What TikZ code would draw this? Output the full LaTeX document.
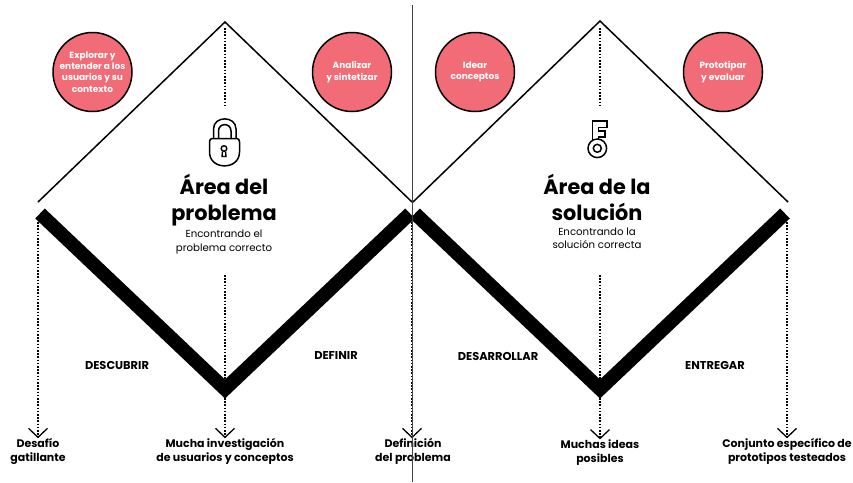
\documentclass[tikz,border=0pt]{standalone}
\usepackage{fontspec}
\usepackage{xcolor}
\usetikzlibrary{arrows.meta}
\setmainfont{Poppins}
\definecolor{circle-pink}{HTML}{F26C77}
\tikzset{
    x=1pt, y=-1pt,
    edge-line/.style = {draw=black, line width=1.5pt},
    thick-v/.style = {draw=black, line width=13.8pt, miter limit=10},
    dot-line/.style = {draw=black, line width=1.1pt, dash pattern=on 1.6pt off 1.6pt},
    dot-arrow/.style = {dot-line, -{Straight Barb[length=9pt,width=19pt,line width=1.3pt]}},
    step-circle/.style = {circle, draw=black, line width=1.5pt, fill=circle-pink, text=white, minimum size=79pt, inner sep=0pt, align=center, font=\fontsize{9}{11.2}\selectfont\bfseries},
    area-title/.style = {align=center, inner sep=0pt, font=\fontsize{20.8}{26.5}\selectfont\bfseries},
    area-sub/.style = {align=center, inner sep=0pt, font=\fontsize{10.2}{13.5}\selectfont},
    phase-label/.style = {inner sep=0pt, font=\fontsize{11.4}{12}\selectfont\bfseries},
    result-label/.style = {align=center, inner sep=0pt, font=\fontsize{11}{14}\selectfont\bfseries},
    icon-line/.style = {draw=black, line width=1.5pt, fill=white},
}

\begin{document}
\begin{tikzpicture}
\useasboundingbox (0,0) rectangle (853,482);

% diamonds
\coordinate (problem-left) at (38,202);
\coordinate (problem-top) at (225,22);
\coordinate (problem-right) at (412,202);
\coordinate (solution-left) at (413,202);
\coordinate (solution-top) at (600,21);
\coordinate (solution-right) at (788,202);
\draw[edge-line] (problem-left) -- (problem-top) -- (problem-right);
\draw[edge-line] (solution-left) -- (solution-top) -- (solution-right);

% thick bands
\coordinate (problem-low) at (225,389);
\coordinate (solution-low) at (600,389);
\draw[thick-v] (40,213.5) -- (problem-low) -- (410,213.5);
\draw[thick-v] (415,213.5) -- (solution-low) -- (785,213.5);

% circles
\node[step-circle] (explorar) at (92.5,72) {Explorar y\\entender a los\\usuarios y su\\contexto};
\node[step-circle] (analizar) at (352,72) {Analizar\\y sintetizar};
\node[step-circle] (idear) at (475,72) {Idear\\conceptos};
\node[step-circle] (prototipar) at (723,72) {Prototipar\\y evaluar};

% lock
\draw[icon-line] (213.5,140) -- (213.5,129) .. controls (213.5,115.5) and (236,115.5) .. (236,129) -- (236,140);
\draw[icon-line] (218.5,140) -- (218.5,131) .. controls (218.5,122.5) and (231,122.5) .. (231,131) -- (231,140);
\draw[icon-line] (212,138.5) -- (237,138.5) .. controls (238.5,138.5) and (239.5,140) .. (239.5,142) -- (239.5,152) .. controls (239.5,170.5) and (209.5,170.5) .. (209.5,152) -- (209.5,142) .. controls (209.5,140) and (210.5,138.5) .. (212,138.5) -- cycle;
\draw[draw=black, line width=1.4pt] (224,148.5) circle[radius=2.8pt];
\draw[draw=black, line width=1.4pt] (222.5,151.5) -- (222,156.5) -- (226,156.5) -- (225.5,151.5);

% key
\draw[icon-line] (592.5,121) -- (607,121) -- (607,127.5) -- (598.5,127.5) -- (598.5,131) -- (605,131) -- (605,137) -- (598.5,137) -- (598.5,142) -- (592.5,142) -- cycle;
\draw[icon-line] (597.3,148.3) circle[radius=9.3pt];
\draw[icon-line] (597.3,148.3) circle[radius=4pt];

% titles
\node[area-title] (problem-title) at (224,200) {Área del\\problema};
\node[area-sub] (problem-sub) at (224,242) {Encontrando el\\problema correcto};
\node[area-title] (solution-title) at (597,197.5) {Área de la\\solución};
\node[area-sub] (solution-sub) at (597,238.5) {Encontrando la\\solución correcta};

% phases
\node[phase-label] (descubrir) at (117,365) {DESCUBRIR};
\node[phase-label] (definir) at (336,355.5) {DEFINIR};
\node[phase-label] (desarrollar) at (498,356) {DESARROLLAR};
\node[phase-label] (entregar) at (715,365.5) {ENTREGAR};

% results
\node[result-label] (desafio) at (38,451.5) {Desafío\\gatillante};
\node[result-label] (mucha) at (225,451.5) {Mucha investigación\\de usuarios y conceptos};
\node[result-label] (definicion) at (413,451.5) {Definición\\del problema};
\node[result-label] (muchas) at (600,452.5) {Muchas ideas\\posibles};
\node[result-label] (conjunto) at (787,451.5) {Conjunto específico de\\prototipos testeados};

% dotted lines
\coordinate (problem-mid-a) at (225,105);
\coordinate (problem-mid-b) at (225,275);
\coordinate (solution-mid-a) at (600,105);
\coordinate (solution-mid-b) at (600,275);
\draw[dot-line] (problem-top) ++(0,6) -- (problem-mid-a);
\draw[dot-line] (solution-top) ++(0,7) -- (solution-mid-a);
\draw[dot-line] (problem-mid-b) -- (225,381);
\draw[dot-line] (solution-mid-b) -- (600,381);
\draw[dot-arrow] (38,222) -- (desafio.north -| 38,427);
\draw[dot-arrow] (225,398) -- (mucha.north -| 225,427);
\draw[dot-arrow] (412,222) -- (definicion.north -| 412,427);
\draw[dot-arrow] (600,398) -- (muchas.north -| 600,427);
\draw[dot-arrow] (787,222) -- (conjunto.north -| 787,427);

% centre rule
\draw[draw=black!75, line width=1.5pt] (412.5,5) -- (412.5,482);
\end{tikzpicture}
\end{document}
